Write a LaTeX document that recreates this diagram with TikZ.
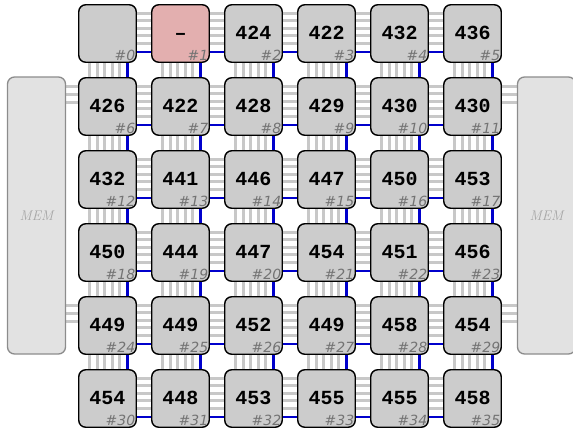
\documentclass[tikz,border=0pt]{standalone}
\usepackage{fontspec}
\newfontfamily\valfont{Liberation Mono}
\newfontfamily\idfont{DejaVu Sans}
\usetikzlibrary{positioning,calc,backgrounds}
\definecolor{cTile}{HTML}{CCCCCC}
\definecolor{cHot}{HTML}{E3AFAF}
\definecolor{cMem}{HTML}{E2E2E2}
\definecolor{cLink}{HTML}{C8C8C8}
\definecolor{cNet}{HTML}{0000CC}

\begin{document}
\begin{tikzpicture}[
    x=1pt, y=-1pt,
    tile/.style={draw=black, line width=1.4pt, rounded corners=7pt, fill=cTile, minimum size=57.5pt, inner sep=0pt, text height=12.3pt, text depth=0pt, font=\valfont\bfseries\fontsize{20}{20}\selectfont},
    hot/.style={tile, fill=cHot},
    mem/.style={draw=gray!90, line width=1.3pt, rounded corners=7pt, fill=cMem, minimum width=58pt, minimum height=277pt, inner sep=0pt, text=black!35, font=\itshape\fontsize{14}{14}\selectfont},
    idx/.style={anchor=south east, inner sep=0.5pt, text=black!55, font=\idfont\itshape\fontsize{14}{14}\selectfont},
    link/.style={cLink, line width=3pt},
    net/.style={cNet, line width=2.2pt}
]
\useasboundingbox (0,0) rectangle (573,429);

% memory blocks
\node[mem] (memL) at (36.5,215.5) {MEM};
\node[mem] (memR) at (546.5,215.5) {MEM};

% tiles
\foreach \v [count=\n from 0] in {{},\textendash,424,422,432,436,426,422,428,429,430,430,432,441,446,447,450,453,450,444,447,454,451,456,449,449,452,449,458,454,454,448,453,455,455,458} {
  \pgfmathtruncatemacro\c{mod(\n,6)}
  \pgfmathtruncatemacro\r{div(\n,6)}
  \def\sty{tile}\ifnum\n=1 \def\sty{hot}\fi
  \node[\sty] (t\n) at (107.5+73*\c, 33.5+73*\r) {\v};
  \node[idx] (id\n) at ([xshift=-1pt,yshift=1.5pt]t\n.south east) {\#\n};
}

\begin{scope}[on background layer]
% row links
\foreach \r in {0,...,5} {
  \foreach \c in {0,...,4} {
    \pgfmathtruncatemacro\n{6*\r+\c}
    \pgfmathtruncatemacro\m{\n+1}
    \foreach \o in {-20.5,-13,-5.5,2,9.5}
      \draw[link] ($(t\n)+(0,\o)$) -- ($(t\m)+(0,\o)$);
    \draw[net] ($(t\n)+(0,18.5)$) -- ($(t\m)+(0,18.5)$);
  }
}
% column links
\foreach \n in {0,...,29} {
  \pgfmathtruncatemacro\m{\n+6}
  \foreach \o in {-18,-10.5,-3,4.5,12}
    \draw[link] ($(t\n)+(\o,0)$) -- ($(t\m)+(\o,0)$);
  \draw[net] ($(t\n)+(20,0)$) -- ($(t\m)+(20,0)$);
}
% memory links
\foreach \n in {6,24}
  \foreach \o in {-20,-12,-4}
    \draw[link] (memL.east |- {$(t\n)+(0,\o)$}) -- ($(t\n)+(0,\o)$);
\foreach \n in {11,29}
  \foreach \o in {-20,-12,-4}
    \draw[link] ($(t\n)+(0,\o)$) -- (memR.west |- {$(t\n)+(0,\o)$});
\end{scope}
\end{tikzpicture}
\end{document}
